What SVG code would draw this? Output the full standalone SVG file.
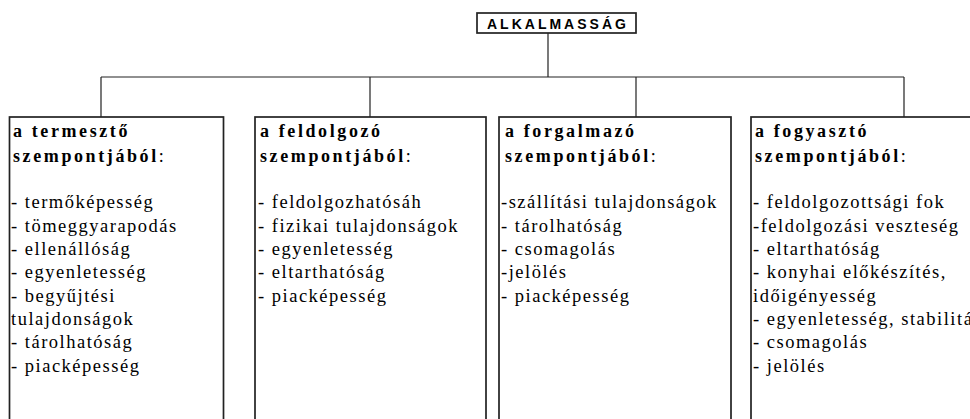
<svg xmlns="http://www.w3.org/2000/svg" width="970" height="419" viewBox="0 0 970 419">
<style>
.box{fill:#fff;stroke:#222;stroke-width:1.7}
.conn{fill:none;stroke:#222;stroke-width:1.2}
.h{font-family:"Liberation Serif","Times New Roman",serif;font-size:18px;font-weight:bold;letter-spacing:2.6px;fill:#000}
.t{font-family:"Liberation Serif","Times New Roman",serif;font-size:18.5px;letter-spacing:1.5px;fill:#000}
.c{letter-spacing:0;font-weight:normal}
.top{font-family:"Liberation Sans",Arial,sans-serif;font-size:14px;font-weight:bold;letter-spacing:3px;fill:#000}
</style>
<rect width="970" height="419" fill="#fff"/>
<g id="connectors">
<path class="conn" d="M548 33V77M101 77H904M101 77V117M370 77V117M636 77V117M904 77V117"/>
</g>
<g id="alkalmassag">
<rect class="box" x="477" y="13" width="159" height="20" stroke-width="2"/>
<text class="top" x="487" y="28.5">ALKALMASSÁG</text>
</g>
<g id="termeszto">
<rect class="box" x="9.5" y="117" width="214" height="320"/>
<text class="h" x="13" y="136.5">a termesztő</text>
<text class="h" x="13" y="161.5">szempontjából<tspan class="c">:</tspan></text>
<text class="t" x="11" y="208.3">- termőképesség</text>
<text class="t" x="11" y="231.6">- tömeggyarapodás</text>
<text class="t" x="11" y="255">- ellenállóság</text>
<text class="t" x="11" y="278.3">- egyenletesség</text>
<text class="t" x="11" y="301.6">- begyűjtési</text>
<text class="t" x="11" y="325">tulajdonságok</text>
<text class="t" x="11" y="348.3">- tárolhatóság</text>
<text class="t" x="11" y="371.6">- piacképesség</text>
</g>
<g id="feldolgozo">
<rect class="box" x="255" y="117" width="231" height="320"/>
<text class="h" x="260" y="136.5">a feldolgozó</text>
<text class="h" x="260" y="161.5">szempontjából<tspan class="c">:</tspan></text>
<text class="t" x="258" y="208.3">- feldolgozhatósáh</text>
<text class="t" x="258" y="231.6">- fizikai tulajdonságok</text>
<text class="t" x="258" y="255">- egyenletesség</text>
<text class="t" x="258" y="278.3">- eltarthatóság</text>
<text class="t" x="258" y="301.6">- piacképesség</text>
</g>
<g id="forgalmazo">
<rect class="box" x="499" y="117" width="232" height="320"/>
<text class="h" x="505" y="136.5">a forgalmazó</text>
<text class="h" x="505" y="161.5">szempontjából<tspan class="c">:</tspan></text>
<text class="t" x="501" y="208.3">-szállítási tulajdonságok</text>
<text class="t" x="501" y="231.6">- tárolhatóság</text>
<text class="t" x="501" y="255">- csomagolás</text>
<text class="t" x="501" y="278.3">-jelölés</text>
<text class="t" x="501" y="301.6">- piacképesség</text>
</g>
<g id="fogyaszto">
<rect class="box" x="751" y="117" width="260" height="320"/>
<text class="h" x="755" y="136.5">a fogyasztó</text>
<text class="h" x="755" y="161.5">szempontjából<tspan class="c">:</tspan></text>
<text class="t" x="753" y="208.3">- feldolgozottsági fok</text>
<text class="t" x="753" y="231.6">-feldolgozási veszteség</text>
<text class="t" x="753" y="255">- eltarthatóság</text>
<text class="t" x="753" y="278.3">- konyhai előkészítés,</text>
<text class="t" x="753" y="301.6">időigényesség</text>
<text class="t" x="753" y="325">- egyenletesség, stabilitás</text>
<text class="t" x="753" y="348.3">- csomagolás</text>
<text class="t" x="753" y="371.6">- jelölés</text>
</g>
</svg>
